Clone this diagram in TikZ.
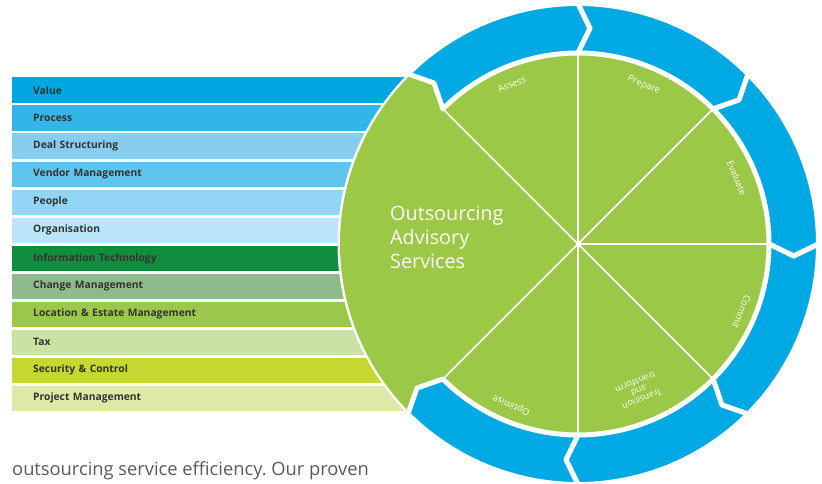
\documentclass[tikz,border=0pt]{standalone}
\usepackage{fontspec}
\setmainfont{Open Sans}
\usepackage{tikz}
\usetikzlibrary{calc}

\definecolor{wheelgreen}{HTML}{9BC846}
\definecolor{ringblue}{HTML}{00A9E4}
\definecolor{labelgray}{HTML}{333333}
\definecolor{textgray}{HTML}{5A5A5A}
\definecolor{valuecol}{HTML}{00A6E2}
\definecolor{processcol}{HTML}{34B5E8}
\definecolor{dealcol}{HTML}{88CCF0}
\definecolor{vendorcol}{HTML}{5FC5ED}
\definecolor{peoplecol}{HTML}{92D5F4}
\definecolor{orgcol}{HTML}{BBE5F8}
\definecolor{itcol}{HTML}{108D3E}
\definecolor{changecol}{HTML}{8EBA8C}
\definecolor{locationcol}{HTML}{9BC74B}
\definecolor{taxcol}{HTML}{CBE2A5}
\definecolor{securitycol}{HTML}{C5D832}
\definecolor{projectcol}{HTML}{DDE9A4}

\frenchspacing
\begin{document}
\begin{tikzpicture}[x=1pt,y=1pt,
      bar/.style={anchor=west,minimum width=428pt,minimum height=25.6pt,
        inner xsep=21pt,text width=386pt,align=left,text=labelgray,
        font=\bfseries\fontsize{10.3}{11}\selectfont},
      wedge/.style={fill=wheelgreen,draw=white,line width=1.6pt},
      arrowseg/.style={fill=ringblue,draw=white,line width=5pt,line join=round},
      phase/.style={text=white,font=\fontsize{9.3}{9.5}\selectfont,align=center,inner sep=0pt}]
      \useasboundingbox (0,0) rectangle (822,483);

      % bars on the left
      \node[bar,fill=valuecol] (value) at (12,392.7) {Value};
      \node[bar,fill=processcol] (process) at (12,364.7) {Process};
      \node[bar,fill=dealcol] (deal) at (12,336.7) {Deal Structuring};
      \node[bar,fill=vendorcol] (vendor) at (12,308.7) {Vendor Management};
      \node[bar,fill=peoplecol] (people) at (12,280.7) {People};
      \node[bar,fill=orgcol] (org) at (12,252.7) {Organisation};
      \node[bar,fill=itcol] (it) at (12,224.7) {Information Technology};
      \node[bar,fill=changecol] (change) at (12,196.7) {Change Management};
      \node[bar,fill=locationcol] (location) at (12,168.7) {Location \& Estate Management};
      \node[bar,fill=taxcol] (tax) at (12,140.7) {Tax};
      \node[bar,fill=securitycol] (security) at (12,112.7) {Security \& Control};
      \node[bar,fill=projectcol] (project) at (12,84.7) {Project Management};

      \coordinate (c) at (578,239);
      \begin{scope}[shift={(c)}]
      \fill[white] (0,0) circle (240.5);

      % advisory segment
      \fill[wheelgreen] (0,0) -- (225:191) -- (221.8:216) -- (225:238)
        arc[start angle=225,end angle=135,radius=238] -- (131.8:216) -- (135:191) -- cycle;

      % green wedges
      \path[wedge] (0,0) -- (135:190) arc[start angle=135,end angle=90,radius=190] -- cycle;
      \path[wedge] (0,0) -- (90:190) arc[start angle=90,end angle=45,radius=190] -- cycle;
      \path[wedge] (0,0) -- (45:190) arc[start angle=45,end angle=0,radius=190] -- cycle;
      \path[wedge] (0,0) -- (0:190) arc[start angle=0,end angle=-45,radius=190] -- cycle;
      \path[wedge] (0,0) -- (-45:190) arc[start angle=-45,end angle=-90,radius=190] -- cycle;
      \path[wedge] (0,0) -- (-90:190) arc[start angle=-90,end angle=-135,radius=190] -- cycle;

      % blue ring arrows
      \path[arrowseg] (135:240.5) arc[start angle=135,end angle=90,radius=240.5] -- (86.8:216)
        -- (90:191) arc[start angle=90,end angle=135,radius=191] -- (131.8:216) -- cycle;
      \path[arrowseg] (90:240.5) arc[start angle=90,end angle=45,radius=240.5] -- (41.8:216)
        -- (45:191) arc[start angle=45,end angle=90,radius=191] -- (86.8:216) -- cycle;
      \path[arrowseg] (45:240.5) arc[start angle=45,end angle=0,radius=240.5] -- (-3.2:216)
        -- (0:191) arc[start angle=0,end angle=45,radius=191] -- (41.8:216) -- cycle;
      \path[arrowseg] (0:240.5) arc[start angle=0,end angle=-45,radius=240.5] -- (-48.2:216)
        -- (-45:191) arc[start angle=-45,end angle=0,radius=191] -- (-3.2:216) -- cycle;
      \path[arrowseg] (-45:240.5) arc[start angle=-45,end angle=-90,radius=240.5] -- (-93.2:216)
        -- (-90:191) arc[start angle=-90,end angle=-45,radius=191] -- (-48.2:216) -- cycle;
      \path[arrowseg] (-90:240.5) arc[start angle=-90,end angle=-135,radius=240.5] -- (-138.2:216)
        -- (-135:191) arc[start angle=-135,end angle=-90,radius=191] -- (-93.2:216) -- cycle;

      % phase labels
      \node[phase,rotate=22.5] (assess) at (112.5:173) {Assess};
      \node[phase,rotate=-22.5] (prepare) at (67.5:172) {Prepare};
      \node[phase,rotate=-67.5] (evaluate) at (22.5:172) {Evaluate};
      \node[phase,rotate=-112.5] (commit) at (-22.5:177) {Commit};
      \node[phase,rotate=-157.5,font=\fontsize{9}{9}\selectfont] (transition) at (-67.5:159) {Transition\\and\\transform};
      \node[phase,rotate=-202.5] (optimise) at (-112.5:174) {Optimise};

      \node[anchor=west,align=left,text=white,inner sep=0pt,
        font=\fontsize{19.8}{24}\selectfont] (oas) at (-188,7) {Outsourcing\\Advisory\\Services};
      \end{scope}

      \node[anchor=base west,inner sep=0pt,text=textgray,
        font=\fontsize{18.3}{20}\selectfont] (caption) at (12,8) {outsourcing service efficiency. Our proven};
      \end{tikzpicture}
\end{document}
